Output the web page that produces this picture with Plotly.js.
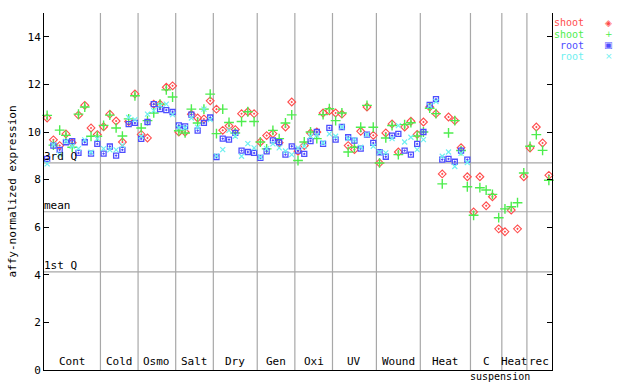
<!DOCTYPE html>
<html>
<head>
<meta charset="utf-8">
<script src="https://cdn.plot.ly/plotly-3.0.1.min.js"></script>
<style>html,body{margin:0;padding:0;background:#fff;}#chart{width:640px;height:384px;}</style>
</head>
<body>
<div id="chart"></div>
<script>
// Categories (conditions) and number of samples in each
const categories = ["Cont","Cold","Osmo","Salt","Dry","Gen","Oxi","UV","Wound","Heat","C","Heat","rec"];
const catSizes   = [9, 6, 6, 6, 7, 6, 6, 7, 7, 8, 5, 4, 4];

// shoot (red diamonds)
const shoot1 = [10.59,9.67,9.43,9.92,9.55,10.71,11.12,10.17,9.89,
  10.22,10.75,10.46,9.58,10.44,11.60,
  9.90,9.75,11.17,11.17,11.88,11.94,
  10.00,10.00,10.75,10.59,10.55,11.31,
  10.96,10.07,10.26,10.10,10.77,10.85,10.77,
  9.58,9.85,9.93,9.55,10.21,11.26,
  9.19,9.43,9.96,10.00,10.80,10.89,
  10.80,10.75,9.43,9.26,10.03,11.05,9.86,
  8.70,9.96,10.34,9.16,10.21,10.45,9.90,
  10.42,11.05,10.77,8.24,10.63,10.48,9.34,8.12,
  6.64,8.12,6.90,7.28,5.93,
  5.81,6.72,5.93,8.12,
  9.33,10.21,9.54,8.18];
// shoot (green crosses)
const shoot2 = [10.70,9.45,10.08,9.86,9.36,10.75,11.05,9.82,9.82,
  10.28,10.71,10.17,9.83,10.55,11.52,
  10.17,10.48,10.80,11.17,11.77,11.47,
  10.05,9.96,10.96,10.38,10.96,11.59,
  9.93,10.96,10.40,9.96,10.44,10.85,10.44,
  9.58,9.29,10.07,9.72,10.38,10.72,
  8.80,9.58,10.00,9.72,10.73,10.98,
  10.48,10.80,9.16,9.36,10.20,11.12,10.20,
  8.70,9.75,10.27,9.05,10.31,10.39,9.83,
  10.00,11.00,10.77,7.82,9.96,10.48,9.22,7.70,
  6.50,7.66,7.56,7.38,6.40,
  6.77,6.86,7.03,8.28,
  9.40,9.89,9.23,7.97];
// root (blue squares)
const root1 = [8.87,9.43,9.25,9.57,9.62,9.12,9.57,9.09,9.50,
  9.09,9.39,9.01,9.25,10.33,10.38,
  9.71,10.42,11.17,10.96,10.92,10.84,
  10.28,10.24,10.73,10.06,10.38,10.61,
  8.95,9.72,9.68,9.96,9.22,9.16,9.12,
  8.91,9.19,9.65,9.57,9.05,9.40,
  9.22,9.08,9.62,10.00,9.50,10.17,
  9.68,10.21,9.78,9.64,9.30,9.89,9.54,
  9.15,8.96,9.85,9.92,9.22,9.05,9.50,
  10.00,11.14,11.38,8.84,8.87,8.75,9.22,8.84,
  null,null,null,null,null,
  null,null,null,null,
  null,null,null,null];
// root (cyan x)
const root2 = [8.66,9.47,9.05,9.61,9.40,9.30,9.67,9.15,9.72,
  9.30,9.25,9.25,9.44,10.61,10.52,
  9.82,10.75,10.90,11.12,11.17,10.73,
  10.18,10.18,10.59,10.20,10.96,10.52,
  9.00,9.26,10.07,9.82,8.98,9.51,9.33,
  8.95,9.30,9.50,9.33,9.20,9.05,
  9.33,9.40,9.82,9.86,9.55,9.92,
  9.82,10.21,9.72,9.68,9.36,9.89,9.40,
  9.15,9.12,9.72,10.27,9.58,9.78,9.26,
  9.68,11.10,11.28,8.98,9.16,8.55,9.10,8.72,
  null,null,null,null,null,
  null,null,null,null,
  null,null,null,null];

// Reference lines
const refNames  = ["3rd Q","mean","1st Q"];
const refValues = [8.70, 6.65, 4.12];

const legendNames = ["shoot","shoot","root","root"];
const colors = ["#ff4d4d","#4ded4d","#4d4dff","#6ef0f0"];

const n = shoot1.length;
const xs = Array.from({length:n},(_,i)=>i+1);

const mono = "DejaVu Sans Mono, monospace";

const traces = [
  {y:shoot1, sym:"diamond-open-dot", size:6, lw:1.1},
  {y:shoot2, sym:"cross-thin-open", size:7, lw:1.4},
  {y:root1,  sym:"square-open-dot", size:5, lw:1.3},
  {y:root2,  sym:"x-thin-open", size:5, lw:1.2}
].map((t,k)=>({
  type:"scatter", mode:"markers", x:xs, y:t.y, name:legendNames[k],
  showlegend:false, cliponaxis:false,
  marker:{symbol:t.sym, size:t.size, color:colors[k], line:{color:colors[k], width:t.lw}}
}));

// category boundaries
const bounds = [0.5];
catSizes.forEach(s=>bounds.push(bounds[bounds.length-1]+s));
const xmax = bounds[bounds.length-1];

const shapes = [];
for (let b=1;b<bounds.length-1;b++){
  shapes.push({type:"line", xref:"x", yref:"paper", x0:bounds[b], x1:bounds[b], y0:0, y1:1,
    line:{color:"#a8a8a8", width:1.2}, layer:"below"});
}
refValues.forEach(v=>{
  shapes.push({type:"line", xref:"paper", yref:"y", x0:0, x1:1, y0:v, y1:v,
    line:{color:"#a8a8a8", width:1.2}, layer:"below"});
});

const annotations = [];
categories.forEach((c,k)=>{
  annotations.push({text:c, xref:"x", yref:"paper", x:(bounds[k]+bounds[k+1])/2, y:0,
    xanchor:"center", yanchor:"bottom", yshift:0, showarrow:false,
    font:{family:mono, size:11, color:"#000"}});
});
// second line of "C suspension"
annotations.push({text:"suspension", xref:"x", yref:"paper", x:(bounds[10]+bounds[11])/2, y:0,
  xanchor:"center", yanchor:"top", xshift:14, yshift:1, showarrow:false,
  font:{family:mono, size:10, color:"#000"}});
refNames.forEach((r,k)=>{
  annotations.push({text:r, xref:"paper", yref:"y", x:0, y:refValues[k], xanchor:"left", yanchor:"bottom",
    xshift:-2, yshift:-2, showarrow:false, font:{family:mono, size:11, color:"#000"}});
});
// legend (text, then symbol)
const legendSyms = ["◈","+","▣","×"];
legendNames.forEach((nm,k)=>{
  annotations.push({text:nm, xref:"paper", yref:"paper", x:1.065, y:0.972-k*0.031, xanchor:"right", yanchor:"middle",
    showarrow:false, borderpad:0, font:{family:mono, size:10, color:colors[k]}});
  annotations.push({text:legendSyms[k], xref:"paper", yref:"paper", x:1.112, y:0.972-k*0.031, xanchor:"center", yanchor:"middle",
    showarrow:false, borderpad:0, font:{family:"DejaVu Sans", size:9, color:colors[k]}});
});

const layout = {
  width:640, height:384,
  margin:{l:44, r:88, t:13, b:14, pad:0},
  paper_bgcolor:"#fff", plot_bgcolor:"#fff",
  showlegend:false,
  xaxis:{range:[0.5, xmax], showticklabels:false, ticks:"", showgrid:false, zeroline:false,
    showline:true, linecolor:"#000", linewidth:1, mirror:false, fixedrange:true},
  yaxis:{range:[0,15], tickmode:"linear", tick0:0, dtick:2, ticks:"inside", ticklen:5, tickcolor:"#000",
    showgrid:false, zeroline:false, showline:true, linecolor:"#000", linewidth:1, mirror:"ticks",
    tickfont:{family:mono, size:11, color:"#000"},
    title:{text:"affy-normalized expression", font:{family:mono, size:11, color:"#000"}, standoff:8}},
  shapes:shapes, annotations:annotations
};

Plotly.newPlot("chart", traces, layout, {staticPlot:true, displayModeBar:false});
</script>
</body>
</html>
